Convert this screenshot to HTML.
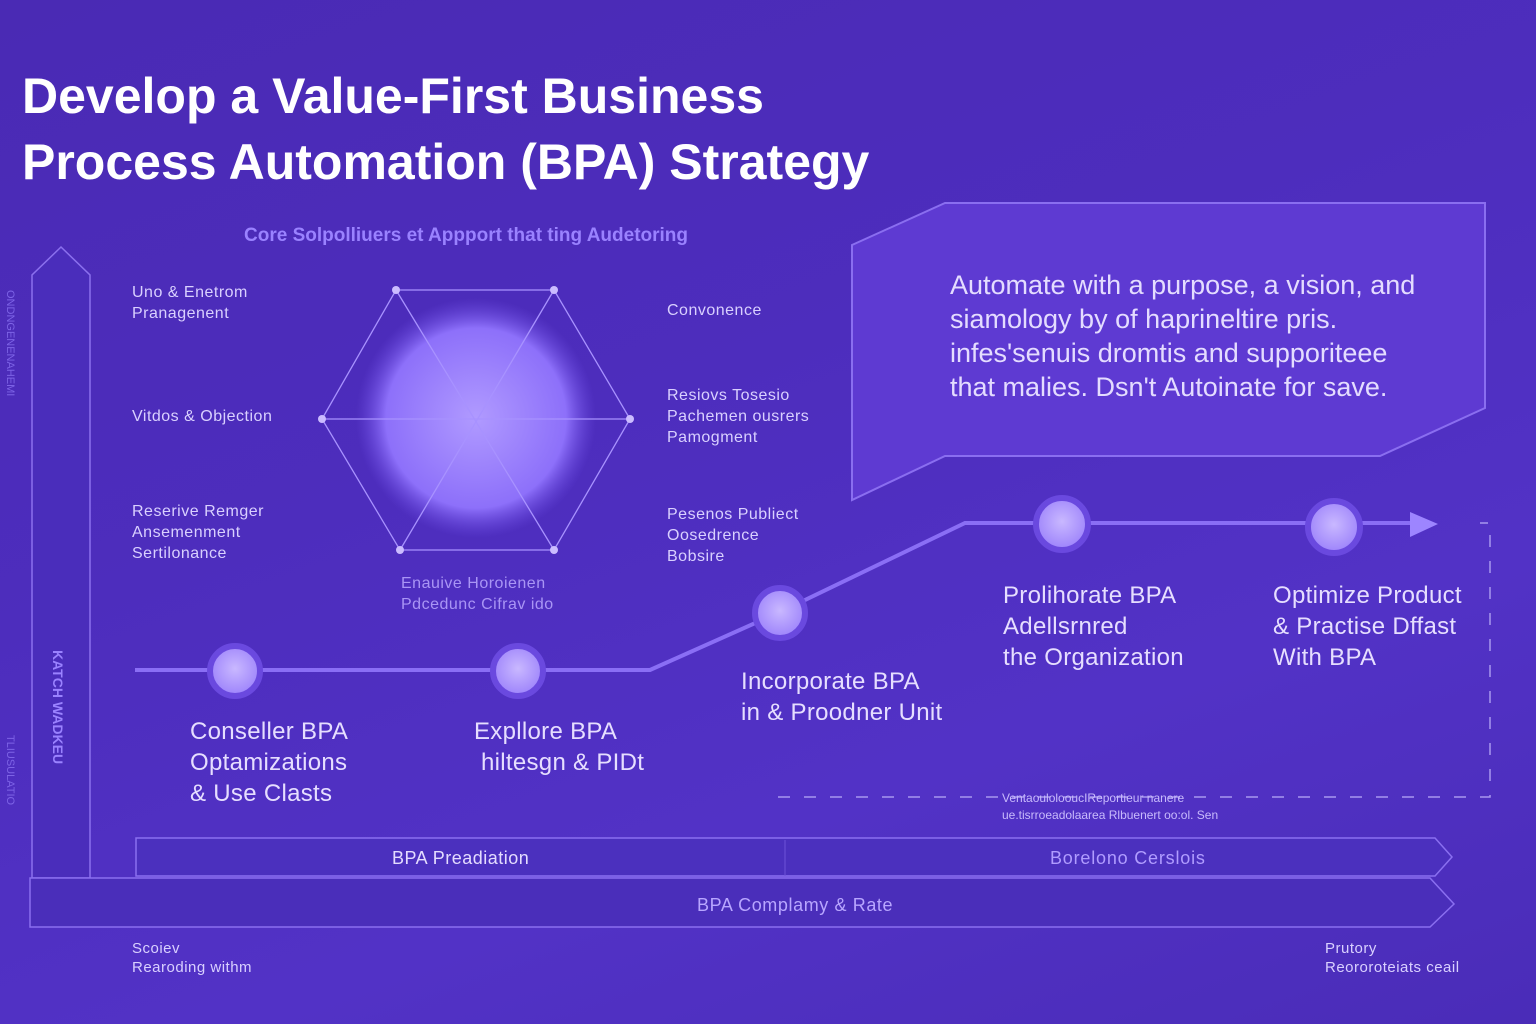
<!DOCTYPE html>
<html><head><meta charset="utf-8"><style>
html,body{margin:0;padding:0}
body{width:1536px;height:1024px;overflow:hidden;position:relative;font-family:"Liberation Sans",sans-serif;
background:linear-gradient(160deg,#4a2ab4 0%,#4d2dbd 40%,#5232c6 70%,#4a2cb8 100%);}
.t{position:absolute;white-space:nowrap}
.lbl{color:#d9d0ff;font-size:16px;line-height:21px;letter-spacing:0.5px}
.big{color:#e6deff;font-size:24px;line-height:31px;letter-spacing:0.3px}
</style></head><body>
<svg width="1536" height="1024" style="position:absolute;left:0;top:0">
<defs>
<radialGradient id="g" cx="50%" cy="50%" r="50%"><stop offset="0" stop-color="#b09aff"/><stop offset="0.75" stop-color="#8d70fa"/><stop offset="1" stop-color="#6a4ae0" stop-opacity="0"/></radialGradient>
<radialGradient id="n" cx="50%" cy="45%" r="55%"><stop offset="0" stop-color="#c9b8ff"/><stop offset="1" stop-color="#9c82fb"/></radialGradient>
</defs>
<polygon points="852,245 945,203 1485,203 1485,408 1380,456 945,456 852,500" fill="#5e3ad2" stroke="#8a6ef0" stroke-width="2"/>
<polygon points="32,878 32,275 61,247 90,275 90,878" fill="#4a2dbb" stroke="#8b70ee" stroke-width="1.5"/>
<polygon points="136,838 1435,838 1452,857 1435,876 136,876" fill="#4b30be" stroke="#8a6ff0" stroke-width="1.5"/>
<polygon points="30,878 1430,878 1454,904 1430,927 30,927" fill="#4a2eba" stroke="#8a6ff0" stroke-width="1.5"/>
<line x1="785" y1="840" x2="785" y2="876" stroke="#6d52d8"/>
<circle cx="476" cy="418" r="120" fill="url(#g)"/>
<g stroke="#a892ff" stroke-width="1.3" fill="none">
<polygon points="396,290 554,290 630,419 554,550 400,550 322,419"/>
<line x1="322" y1="419" x2="630" y2="419"/><line x1="396" y1="290" x2="554" y2="550"/><line x1="554" y1="290" x2="400" y2="550"/>
</g>
<g fill="#cbbcff"><circle cx="396" cy="290" r="4"/><circle cx="554" cy="290" r="4"/><circle cx="630" cy="419" r="4"/><circle cx="554" cy="550" r="4"/><circle cx="400" cy="550" r="4"/><circle cx="322" cy="419" r="4"/></g>
<polyline points="135,670 650,670 780,612 965,523 1410,523" fill="none" stroke="#8a6ef5" stroke-width="4"/>
<polygon points="1410,512 1438,524 1410,537" fill="#9d85ff"/>
<g stroke="#6a49df" stroke-width="6" fill="url(#n)">
<circle cx="235" cy="671" r="25"/><circle cx="518" cy="671" r="25"/><circle cx="780" cy="613" r="25"/><circle cx="1062" cy="524" r="26"/><circle cx="1334" cy="527" r="26"/>
</g>
<path d="M778,797 H1490 V523 H1480" fill="none" stroke="#a897ef" stroke-width="1.5" stroke-dasharray="12,14"/>
</svg>
<div class="t" style="left:22px;top:63px;color:#fff;font-size:50px;font-weight:bold;line-height:66px;">Develop a Value-First Business<br>Process Automation (BPA) Strategy</div>
<div class="t" style="left:244px;top:225px;color:#9a82ff;font-size:19px;font-weight:bold;">Core Solpolliuers et Appport that ting Audetoring</div>
<div class="t" style="left:950px;top:268px;color:#e4dcff;font-size:27px;line-height:34px;">Automate with a purpose, a vision, and<br>siamology by of haprineltire pris.<br>infes'senuis dromtis and supporiteee<br>that malies. Dsn't Autoinate for save.</div>
<div class="t lbl" style="left:132px;top:282px">Uno &amp; Enetrom<br>Pranagenent</div>
<div class="t lbl" style="left:132px;top:406px">Vitdos &amp; Objection</div>
<div class="t lbl" style="left:132px;top:501px">Reserive Remger<br>Ansemenment<br>Sertilonance</div>
<div class="t lbl" style="left:667px;top:300px">Convonence</div>
<div class="t lbl" style="left:667px;top:385px">Resiovs Tosesio<br>Pachemen ousrers<br>Pamogment</div>
<div class="t lbl" style="left:667px;top:504px">Pesenos Publiect<br>Oosedrence<br>Bobsire</div>
<div class="t lbl" style="left:401px;top:573px;color:#a995f5">Enauive Horoienen<br>Pdcedunc Cifrav ido</div>
<div class="t big" style="left:190px;top:716px">Conseller BPA<br>Optamizations<br>&amp; Use Clasts</div>
<div class="t big" style="left:474px;top:716px">Expllore BPA<br>&nbsp;hiltesgn &amp; PIDt</div>
<div class="t big" style="left:741px;top:666px">Incorporate BPA<br>in &amp; Proodner Unit</div>
<div class="t big" style="left:1003px;top:580px">Prolihorate BPA<br>Adellsrnred<br>the Organization</div>
<div class="t big" style="left:1273px;top:580px">Optimize Product<br>&amp; Practise Dffast<br>With BPA</div>
<div class="t" style="left:1002px;top:790px;color:#c8bafc;font-size:12px;line-height:17px">VentaoulolooucIReportieur nanere<br>ue.tisrroeadolaarea Rlbuenert oo:ol. Sen</div>
<div class="t" style="left:392px;top:848px;color:#e4dcff;font-size:18px;letter-spacing:0.5px">BPA Preadiation</div>
<div class="t" style="left:1050px;top:848px;color:#b09cff;font-size:18px;letter-spacing:0.8px">Borelono Cerslois</div>
<div class="t" style="left:697px;top:895px;color:#b8a6ff;font-size:18px;letter-spacing:0.6px">BPA Complamy &amp; Rate</div>
<div class="t lbl" style="left:132px;top:939px;font-size:15px;line-height:19px">Scoiev<br>Rearoding withm</div>
<div class="t lbl" style="left:1325px;top:939px;font-size:15px;line-height:19px">Prutory<br>Reororoteiats ceail</div>
<div class="t" style="left:4px;top:290px;color:#7d63e6;font-size:11px;writing-mode:vertical-rl;">ONDNGENENAHEMI</div>
<div class="t" style="left:4px;top:735px;color:#7d63e6;font-size:11px;writing-mode:vertical-rl;">TLIUSULATIO</div>
<div class="t" style="left:50px;top:650px;color:#9a82ff;font-size:14px;font-weight:bold;writing-mode:vertical-rl;">KATCH WADKEU</div>
</body></html>
